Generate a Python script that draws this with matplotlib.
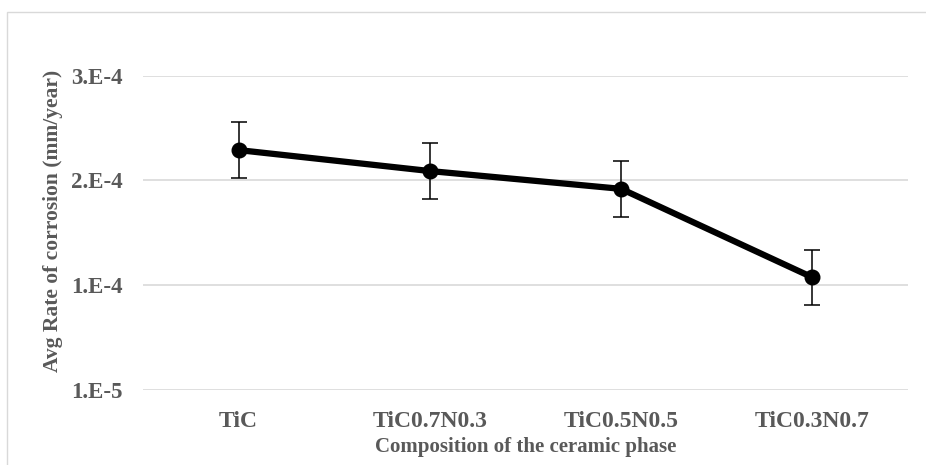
import matplotlib
matplotlib.use("Agg")
import matplotlib.pyplot as plt
from matplotlib.patches import Rectangle

# Average corrosion rate per ceramic-phase composition
compositions = ["TiC", "TiC0.7N0.3", "TiC0.5N0.5", "TiC0.3N0.7"]
avg_rate = [2.39e-4, 2.19e-4, 2.02e-4, 1.175e-4]
rate_err = [2.67e-5, 2.67e-5, 2.65e-5, 2.65e-5]

y_ticks = [1e-5, 1.1e-4, 2.1e-4, 3.1e-4]
y_tick_labels = ["1.E-5", "1.E-4", "2.E-4", "3.E-4"]

W, H = 926, 465
fig = plt.figure(figsize=(W / 100, H / 100), dpi=100)

# outer chart frame
fig.patches.append(Rectangle((7 / W, -0.1), 1.2, (H - 12) / H + 0.1,
                             transform=fig.transFigure, fill=False,
                             edgecolor="#d9d9d9", linewidth=1.0))

ax = fig.add_axes([143 / W, 75 / H, (908 - 143) / W, (390 - 75.7) / H])

text_color = "#595959"
font = ["Liberation Serif", "DejaVu Serif"]

x = list(range(len(compositions)))
ax.errorbar(x, avg_rate, yerr=rate_err, color="black", linewidth=4.5,
            marker="o", markersize=10.5, ecolor="black", elinewidth=1.1,
            capsize=5.5, capthick=1.1, zorder=3)

ax.set_xlim(-0.5, len(compositions) - 0.5)
ax.set_ylim(y_ticks[0], y_ticks[-1])
ax.set_yticks(y_ticks)
ax.set_yticklabels(y_tick_labels, family=font, fontweight="bold",
                   fontsize=16.5, color=text_color)
ax.set_xticks(x)
ax.set_xticklabels(compositions, family=font, fontweight="bold",
                   fontsize=17, color=text_color)
ax.tick_params(axis="both", length=0)
ax.tick_params(axis="y", pad=15)
ax.tick_params(axis="x", pad=15)

ax.grid(axis="y", color="#d9d9d9", linewidth=1.2)
ax.set_axisbelow(True)
for s in ax.spines.values():
    s.set_visible(False)

ax.set_xlabel("Composition of the ceramic phase", family=font,
              fontweight="bold", fontsize=15, color=text_color, labelpad=4)
ax.set_ylabel("Avg Rate of corrosion (mm/year)", family=font,
              fontweight="bold", fontsize=15.5, color=text_color)
ax.yaxis.set_label_coords(-0.1045, 0.538)

fig.savefig("out.png", dpi=100)
